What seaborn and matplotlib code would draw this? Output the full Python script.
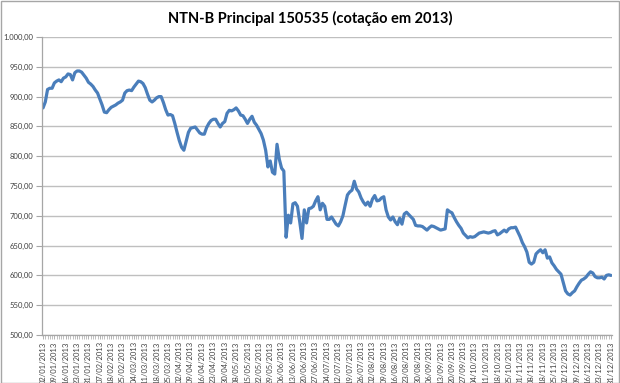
import numpy as np
import pandas as pd
import matplotlib
matplotlib.use("Agg")
import matplotlib.pyplot as plt
import seaborn as sns
from matplotlib.ticker import FixedLocator, FuncFormatter
from matplotlib.patches import Rectangle

title = "NTN-B Principal 150535 (cotação em 2013)"

tick_labels = [
    "02/01/2013", "09/01/2013", "16/01/2013", "23/01/2013", "31/01/2013",
    "07/02/2013", "18/02/2013", "25/02/2013", "04/03/2013", "11/03/2013",
    "18/03/2013", "25/03/2013", "02/04/2013", "09/04/2013", "16/04/2013",
    "23/04/2013", "30/04/2013", "08/05/2013", "15/05/2013", "22/05/2013",
    "29/05/2013", "06/06/2013", "13/06/2013", "20/06/2013", "27/06/2013",
    "04/07/2013", "12/07/2013", "19/07/2013", "26/07/2013", "02/08/2013",
    "09/08/2013", "16/08/2013", "23/08/2013", "30/08/2013", "06/09/2013",
    "13/09/2013", "20/09/2013", "27/09/2013", "04/10/2013", "11/10/2013",
    "18/10/2013", "25/10/2013", "01/11/2013", "08/11/2013", "18/11/2013",
    "25/11/2013", "02/12/2013", "09/12/2013", "16/12/2013", "23/12/2013",
    "31/12/2013",
]

prices = [
    881, 891, 912, 914, 914, 923, 926, 928, 925, 931,
    933, 938, 937, 928, 940, 943, 943, 941, 936, 931,
    924, 921, 917, 911, 906, 896, 886, 874, 873, 878,
    882, 884, 886, 889, 891, 894, 906, 910, 911, 910,
    916, 921, 926, 925, 922, 915, 904, 894, 891, 894,
    898, 900, 900, 890, 878, 869, 870, 868, 855, 840,
    826, 815, 810, 825, 840, 847, 848, 849, 844, 839,
    837, 837, 848, 855, 860, 862, 862, 855, 849, 855,
    858, 872, 877, 876, 878, 881, 876, 869, 868, 862,
    855, 862, 867, 857, 852, 845, 838, 827, 810, 782,
    792, 773, 770, 820, 795, 780, 775, 664, 701, 688,
    720, 722, 716, 690, 662, 710, 688, 712, 713, 716,
    725, 732, 710, 721, 716, 694, 694, 698, 692, 686,
    683, 690, 700, 718, 735, 740, 743, 758, 745, 740,
    730, 723, 718, 723, 716, 728, 734, 725, 726, 730,
    732, 710, 698, 693, 698, 690, 685, 696, 686, 703,
    706, 702, 698, 694, 684, 683, 683, 682, 679, 676,
    680, 683, 682, 680, 678, 676, 677, 678, 710, 707,
    705, 697, 690, 684, 679, 671, 667, 663, 665, 664,
    665, 668, 671, 672, 673, 672, 671, 672, 674, 675,
    668, 670, 673, 676, 673, 678, 680, 680, 681, 673,
    665, 655, 648, 639, 622, 619, 622, 636, 640, 643,
    638, 643, 629, 631, 621, 616, 610, 606, 602, 588,
    574, 569, 567, 571, 574, 581, 587, 592, 594, 597,
    602, 606, 604, 598, 596, 596, 597, 594, 600, 601,
    600,
]

label_step = 5
y_ticks = [500, 550, 600, 650, 700, 750, 800, 850, 900, 950, 1000]

sns.set_theme(style="white")
plt.rcParams['font.family'] = ['Lato', 'DejaVu Sans']

W, H = 620, 383
fig = plt.figure(figsize=(W / 100, H / 100), dpi=100)
fig.patch.set_facecolor("white")

ax = fig.add_axes([42 / W, 1 - 335 / H, 570 / W, 298 / H])
df = pd.DataFrame({"idx": np.arange(len(prices)), "price": prices})
sns.lineplot(data=df, x="idx", y="price", ax=ax, color="#4A7EBB",
             linewidth=2.3, solid_joinstyle="round", solid_capstyle="round")

ax.set_xlim(-0.45, len(prices) - 1 + 0.45)
ax.set_ylim(500, 1000)
ax.set_xlabel("")
ax.set_ylabel("")

grid_col = "#BFBFBF"
ax.yaxis.set_major_locator(FixedLocator(y_ticks))
ax.yaxis.set_major_formatter(FuncFormatter(
    lambda v, p: f"{v:,.2f}".replace(",", "X").replace(".", ",").replace("X", ".")))
ax.grid(axis="y", color=grid_col, linewidth=1.0)
ax.grid(axis="x", visible=False)
ax.set_axisbelow(True)

ax.xaxis.set_major_locator(FixedLocator(np.arange(0, len(prices), label_step)))
ax.set_xticklabels(tick_labels, rotation=90)
ax.xaxis.set_minor_locator(FixedLocator(np.arange(0, len(prices))))

for s in ["top", "right"]:
    ax.spines[s].set_visible(False)
for s in ["left", "bottom"]:
    ax.spines[s].set_color("#A6A6A6")
    ax.spines[s].set_linewidth(0.9)

ax.tick_params(axis="y", which="major", length=4, width=0.8, color="#A6A6A6",
               labelsize=5.5, labelcolor="#404040", pad=2, left=True)
ax.tick_params(axis="x", which="major", length=3, width=0.6, color="#A6A6A6",
               labelsize=5.5, labelcolor="#404040", pad=1.5, bottom=True)
ax.tick_params(axis="x", which="minor", length=3, width=0.5, color="#A6A6A6",
               bottom=True)

fig.text(0.5, 1 - 18 / H, title, ha="center", va="center",
         fontsize=10.5, fontweight="bold", color="#000000")

fig.patches.append(Rectangle((0.5 / W, 0.5 / H), 1 - 1.5 / W, 1 - 1.5 / H,
                             transform=fig.transFigure, fill=False,
                             edgecolor="#A6A6A6", linewidth=1.0))

fig.savefig("out.png", dpi=100)
